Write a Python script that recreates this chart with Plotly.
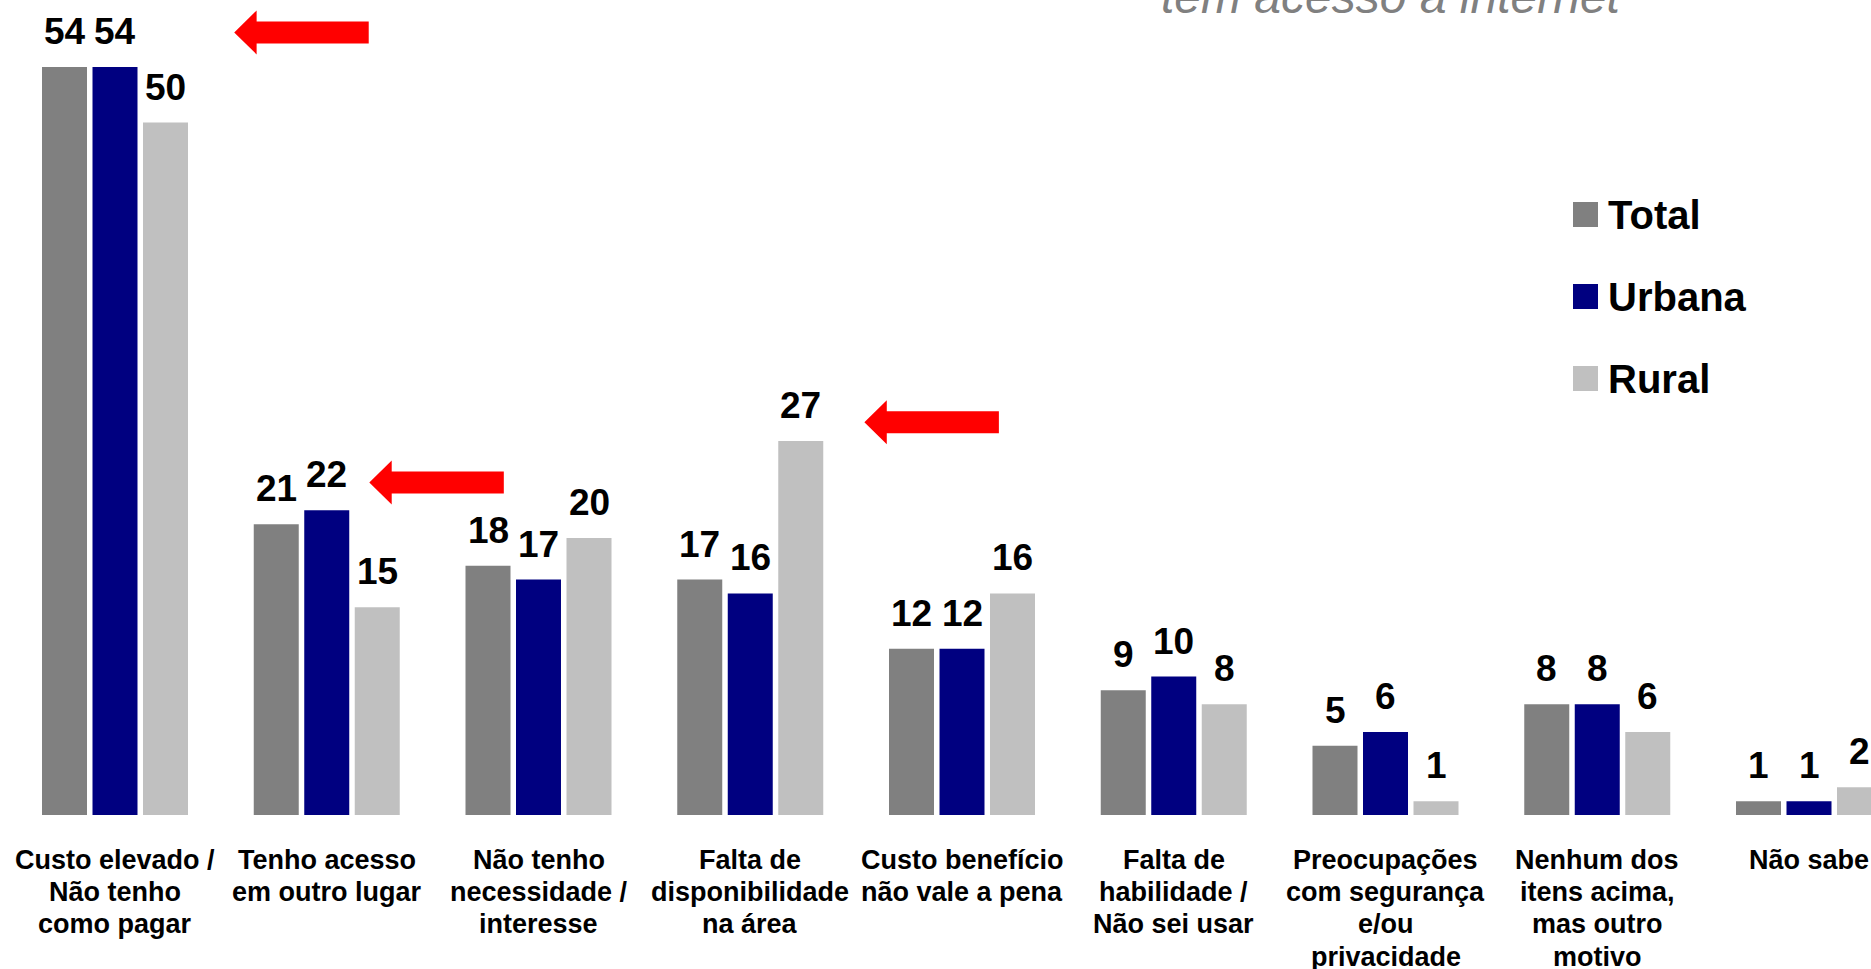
import plotly.graph_objects as go

# ---------------- data ----------------
CATEGORIES = [
    "Custo elevado /\nNão tenho\ncomo pagar",
    "Tenho acesso\nem outro lugar",
    "Não tenho\nnecessidade /\ninteresse",
    "Falta de\ndisponibilidade\nna área",
    "Custo benefício\nnão vale a pena",
    "Falta de\nhabilidade /\nNão sei usar",
    "Preocupações\ncom segurança\ne/ou\nprivacidade",
    "Nenhum dos\nitens acima,\nmas outro\nmotivo",
    "Não sabe",
]
SERIES = ["Total", "Urbana", "Rural"]
TOTAL = [54, 21, 18, 17, 12, 9, 5, 8, 1]
URBANA = [54, 22, 17, 16, 12, 10, 6, 8, 1]
RURAL = [50, 15, 20, 27, 16, 8, 1, 6, 2]
COLORS = ["#808080", "#000080", "#C0C0C0"]
TITLE_TEXT = "tem acesso à internet"
# arrow tips (category position, value units)
ARROW_TIPS = [(0.563, 56.5), (1.201, 24.0), (3.539, 28.35)]

# ---------------- layout constants ----------------
W, H = 1871, 969
PLOT_BOTTOM = 815          # px from top of page to the bar baseline
PX_PER_CAT = 211.75
FIRST_CENTER = 115
PX_PER_UNIT = 13.85
BARGAP = 0.2845
BARGROUPGAP = 0.109
FONT = "Liberation Sans, Arial, Helvetica, sans-serif"

x_names = [c.replace("\n", " ") for c in CATEGORIES]
values = [TOTAL, URBANA, RURAL]

fig = go.Figure()
for name, vals, col in zip(SERIES, values, COLORS):
    fig.add_bar(x=x_names, y=vals, name=name,
                marker=dict(color=col, line=dict(width=0)),
                showlegend=False)

annotations = []
shapes = []

# value labels
slot = (1 - BARGAP) / len(SERIES)
for j, vals in enumerate(values):
    off = (j - (len(SERIES) - 1) / 2) * slot
    for i, v in enumerate(vals):
        annotations.append(dict(
            x=i + off, y=v, xref="x", yref="y", text=str(v),
            showarrow=False, xanchor="center", yanchor="bottom", yshift=13,
            font=dict(family=FONT, size=37, color="black", weight="bold")))

# category labels, one annotation per line
for i, cat in enumerate(CATEGORIES):
    for k, line in enumerate(cat.split("\n")):
        annotations.append(dict(
            x=i, y=0, xref="x", yref="paper", text=line,
            showarrow=False, xanchor="center", yanchor="middle",
            yshift=-(45 + 32.2 * k),
            font=dict(family=FONT, size=27, color="black", weight="bold")))

# title (partially outside the page at the top)
annotations.append(dict(
    x=1159 / W, y=1, xref="paper", yref="paper", text=TITLE_TEXT,
    showarrow=False, xanchor="left", yanchor="bottom", yshift=-25,
    font=dict(family=FONT, size=48, color="#808080", style="italic")))

# manual legend
leg_x = 1585.5
leg_y = [214.5, 296.5, 378.5]
sq = 25
for name, col, py in zip(SERIES, COLORS, leg_y):
    shapes.append(dict(
        type="rect", xref="paper", yref="paper",
        x0=(leg_x - sq / 2) / W, x1=(leg_x + sq / 2) / W,
        y0=(PLOT_BOTTOM - (py + sq / 2)) / PLOT_BOTTOM,
        y1=(PLOT_BOTTOM - (py - sq / 2)) / PLOT_BOTTOM,
        fillcolor=col, line=dict(width=0)))
    annotations.append(dict(
        x=1606 / W, y=(PLOT_BOTTOM - py) / PLOT_BOTTOM, xref="paper", yref="paper",
        text=name, showarrow=False, xanchor="left", yanchor="middle",
        font=dict(family=FONT, size=40, color="black", weight="bold")))

# red block arrows
arrow_path = "M0,0 L22.4,22 L22.4,11 L134.5,11 L134.5,-11 L22.4,-11 L22.4,-22 Z"
for ax, ay in ARROW_TIPS:
    shapes.append(dict(
        type="path", xref="x", yref="y", xsizemode="pixel", ysizemode="pixel",
        xanchor=ax, yanchor=ay, path=arrow_path,
        fillcolor="#FF0000", line=dict(width=0)))

fig.update_layout(
    width=W, height=H,
    margin=dict(l=0, r=0, t=0, b=H - PLOT_BOTTOM, pad=0),
    barmode="group", bargap=BARGAP, bargroupgap=BARGROUPGAP,
    plot_bgcolor="white", paper_bgcolor="white",
    xaxis=dict(type="category", visible=False,
               range=[-FIRST_CENTER / PX_PER_CAT, (W - FIRST_CENTER) / PX_PER_CAT]),
    yaxis=dict(visible=False, range=[0, PLOT_BOTTOM / PX_PER_UNIT]),
    annotations=annotations, shapes=shapes,
    showlegend=False,
    font=dict(family=FONT),
)

fig.write_html("out.html", config={"displayModeBar": False},
               post_script="document.body.style.margin='0';document.body.style.overflow='hidden';")
